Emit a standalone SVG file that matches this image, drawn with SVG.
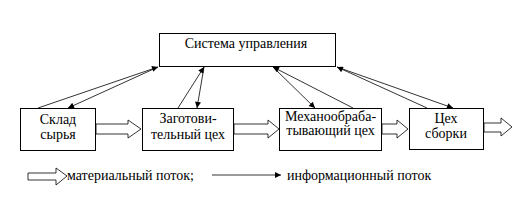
<svg xmlns="http://www.w3.org/2000/svg" width="518" height="200" viewBox="0 0 518 200">
<style>
.box{fill:#fff;stroke:#000;stroke-width:1}
.t{font-family:"Liberation Serif","DejaVu Serif","Times New Roman",serif;font-size:14px;fill:#000;text-anchor:middle}
.lt{font-family:"Liberation Serif","DejaVu Serif","Times New Roman",serif;font-size:14px;fill:#000}
.mat{fill:#fff;stroke:#000;stroke-width:0.8}
.info{stroke:#000;stroke-width:0.8;fill:none;marker-end:url(#ah)}
</style>
<defs>
<marker id="ah" viewBox="0 0 10 10" refX="10" refY="5" markerWidth="8" markerHeight="6" markerUnits="userSpaceOnUse" orient="auto">
<path d="M0,0 L10,5 L0,10 z" fill="#000"/>
</marker>
</defs>
<rect width="518" height="200" fill="#fff"/>
<g id="control">
<rect class="box" x="159.5" y="33.5" width="176" height="33"/>
<text class="t" x="246" y="48">Система управления</text>
</g>
<g id="sklad">
<rect class="box" x="20.5" y="108.5" width="75" height="42"/>
<text class="t" x="58" y="124">Склад</text>
<text class="t" x="58" y="139">сырья</text>
</g>
<g id="zagot">
<rect class="box" x="142.5" y="108.5" width="91" height="42"/>
<text class="t" x="188" y="123">Заготови-</text>
<text class="t" x="188" y="139">тельный цех</text>
</g>
<g id="mech">
<rect class="box" x="279.5" y="108.5" width="102" height="42"/>
<text class="t" x="330.5" y="121">Механообраба-</text>
<text class="t" x="330.5" y="135">тывающий цех</text>
</g>
<g id="sborka">
<rect class="box" x="409.5" y="108.5" width="74" height="41"/>
<text class="t" x="446" y="123">Цех</text>
<text class="t" x="446" y="138">сборки</text>
</g>
<g id="connectors">
<polygon class="mat" points="96,124 128,124 128,120 141,129 128,138 128,134 96,134"/>
<polygon class="mat" points="234,124 268,124 268,120 279,129 268,138 268,134 234,134"/>
<polygon class="mat" points="382,124 397,124 397,120 408,129 397,138 397,134 382,134"/>
<polygon class="mat" points="484,123 501,123 501,118 512,127 501,136 501,132 484,132"/>
<line class="info" x1="38" y1="108" x2="158" y2="67"/>
<line class="info" x1="158" y1="67" x2="68" y2="108"/>
<line class="info" x1="178" y1="108" x2="204" y2="67"/>
<line class="info" x1="204" y1="67" x2="197" y2="108"/>
<line class="info" x1="353" y1="108" x2="273" y2="67"/>
<line class="info" x1="273" y1="67" x2="315" y2="108"/>
<line class="info" x1="427" y1="108" x2="337" y2="67"/>
<line class="info" x1="337" y1="67" x2="453" y2="108"/>
</g>
<g id="legend">
<polygon class="mat" points="28,173 56,173 56,168 67,176 56,185 56,180 28,180"/>
<text class="lt" x="67" y="180">материальный поток;</text>
<line class="info" x1="212" y1="175" x2="281" y2="175"/>
<text class="lt" x="287" y="180">информационный поток</text>
</g>
</svg>
